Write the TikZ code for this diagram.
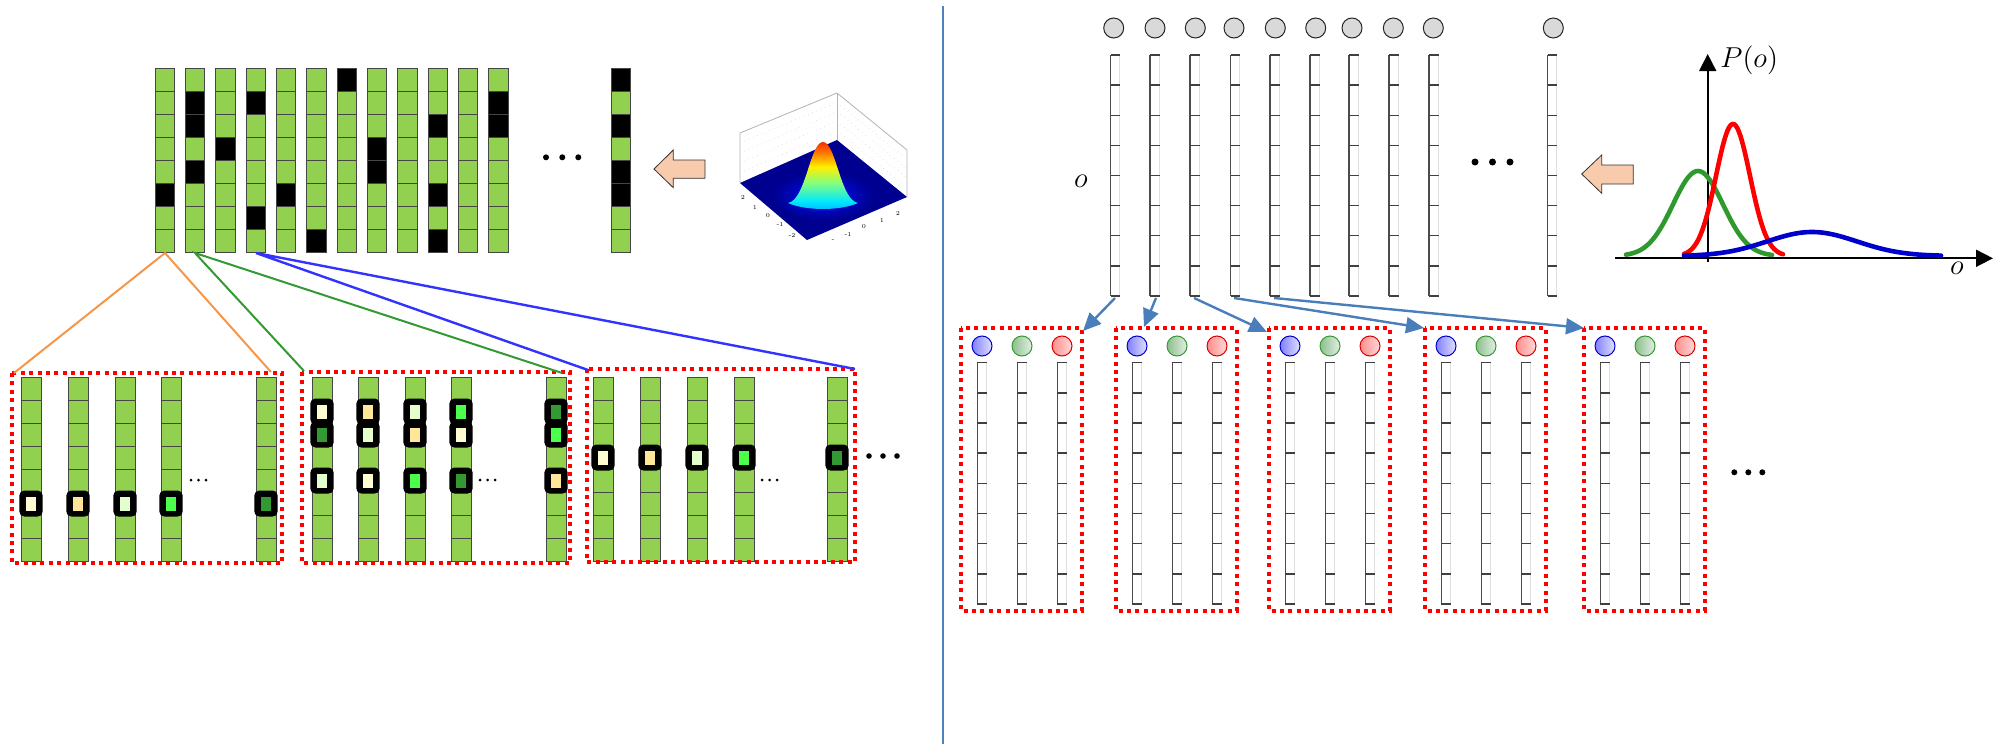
\documentclass[tikz,border=0pt]{standalone}
\usetikzlibrary{arrows.meta}
\definecolor{cellgreen}{HTML}{92D050}
\definecolor{hA}{HTML}{FFFCD2}
\definecolor{hB}{HTML}{FFE699}
\definecolor{hC}{HTML}{E2FFCC}
\definecolor{hD}{HTML}{4DFF4D}
\definecolor{hE}{HTML}{339933}
\definecolor{peachc}{HTML}{F8CBAD}
\definecolor{divblue}{HTML}{4F81BD}
\definecolor{arrowblue}{HTML}{4A7EBB}
\definecolor{orangeline}{HTML}{F79646}
\definecolor{greenline}{HTML}{339933}
\definecolor{blueline}{HTML}{3333FF}
\definecolor{curvegreen}{HTML}{2E9A2E}
\definecolor{curvered}{HTML}{FF0000}
\definecolor{curveblue}{HTML}{0000CC}
\definecolor{jetnavy}{HTML}{000090}
\definecolor{jetblue}{HTML}{0010FF}
\definecolor{jetlblue}{HTML}{0080FF}
\definecolor{jetcyan}{HTML}{00E8FF}
\definecolor{jetgreen}{HTML}{80FF80}
\definecolor{jetyellow}{HTML}{FFF000}
\definecolor{jetorange}{HTML}{FF7000}
\definecolor{jetred}{HTML}{F00000}
\definecolor{jetdred}{HTML}{900000}
\pgfdeclareverticalshading{jetbump}{100bp}{color(0bp)=(jetblue); color(18bp)=(jetlblue); color(32bp)=(jetcyan); color(45bp)=(jetgreen); color(57bp)=(jetyellow); color(68bp)=(jetorange); color(80bp)=(jetred); color(100bp)=(jetdred)}
\tikzset{
  cell/.style={draw=gray!55!black, line width=0.5pt, fill=cellgreen},
  blackcell/.style={draw=gray!55!black, line width=0.5pt, fill=black},
  redbox/.style={draw=red, line width=2pt, dash pattern=on 2pt off 2.2pt},
  scaleline/.style={draw=gray!60!black, line width=0.6pt},
  faintline/.style={draw=gray!25, line width=0.4pt},
  tickline/.style={draw=black!75, line width=0.7pt},
  bluearrow/.style={draw=arrowblue, line width=1.2pt, -{Triangle[length=9pt,width=8pt]}},
  peacharrow/.style={fill=peachc, draw=black!80, line width=0.4pt},
  gcircle/.style={fill=gray!30, draw=gray!30!black, line width=0.5pt},
  hframe/.style={fill=black, rounded corners=2.5pt},
  tinylab/.style={font=\fontsize{3}{3.5}\selectfont, inner sep=0pt},
  dotc/.style={fill=black},
}
\begin{document}
\begin{tikzpicture}[x=0.5pt,y=-0.5pt]
\useasboundingbox (0,0) rectangle (2004,744);

% ---------------- top-left binary matrix ----------------
\foreach \c in {0,...,11} {
  \foreach \r in {0,...,7} {
    \path[cell] ({155+30.35*\c},{68+23*\r}) rectangle +(19.3,23);
  }
}
\foreach \c/\r in {1/6,2/2,2/3,2/5,3/4,4/2,4/7,5/6,6/8,7/1,8/4,8/5,10/3,10/6,10/8,12/2,12/3} {
  \path[blackcell] ({155+30.35*(\c-1)},{68+23*(\r-1)}) rectangle +(19.3,23);
}
\foreach \r in {0,...,7} {
  \path[cell] (611.5,{68+23*\r}) rectangle +(18.5,23);
}
\foreach \r in {1,3,5,6} {
  \path[blackcell] (611.5,{68+23*(\r-1)}) rectangle +(18.5,23);
}
% ellipsis
\foreach \x in {546,562.3,578.3} \fill[dotc] (\x,157.3) circle[radius=3];
% peach arrow (left half)
\path[peacharrow] (654,169) -- (673.3,150) -- (673.3,160) -- (705,160) -- (705,178.3) -- (673.3,178.3) -- (673.3,187.7) -- cycle;

% ---------------- gaussian surface ----------------
\draw[gray!60, line width=0.4pt] (740,183) -- (740,133) -- (837,93) -- (907,150) -- (907,197);
\draw[gray!60, line width=0.4pt] (837,93) -- (837,140);
\foreach \k in {1,...,4} {
  \draw[gray!35, line width=0.3pt, dotted] (740,{133+10*\k}) -- (837,{93+9.4*\k});
  \draw[gray!35, line width=0.3pt, dotted] (837,{93+9.4*\k}) -- (907,{150+9.4*\k});
}
\fill[jetnavy] (740,183) -- (837,140) -- (907,197) -- (807,240) -- cycle;
\begin{scope}
  \clip (740,183) -- (837,140) -- (907,197) -- (807,240) -- cycle;
  \shade[inner color=jetblue, outer color=jetnavy] (823,196) ellipse [x radius=50, y radius=24];
\end{scope}
\shade[shading=jetbump] (788,203) .. controls (806,200) and (810,142) .. (823,142) .. controls (836,142) and (840,200) .. (858,203) .. controls (840,211) and (806,211) .. (788,203) -- cycle;
\node[tinylab] (tl1) at (743,197) {2};
\node[tinylab] (tl2) at (755,207) {1};
\node[tinylab] (tl3) at (768,216) {0};
\node[tinylab] (tl4) at (780,225) {-1};
\node[tinylab] (tl5) at (792,235) {-2};
\node[tinylab] (tr1) at (833,241) {-};
\node[tinylab] (tr2) at (848,234) {-1};
\node[tinylab] (tr3) at (864,227) {0};
\node[tinylab] (tr4) at (882,220) {1};
\node[tinylab] (tr5) at (898,213) {2};

% ---------------- bottom-left groups ----------------
\foreach \x in {21,68,115,161,256,312,358,405,451,546,593,640,687,734,827} {
  \foreach \r in {0,...,7} {
    \path[cell] (\x,{377+23*\r}) rectangle +(20,23);
  }
}
\foreach \x/\r/\hc in {21/5/hA,68/5/hB,115/5/hC,161/5/hD,256/5/hE,
  312/1/hA,312/2/hE,312/4/hC,
  358/1/hB,358/2/hC,358/4/hA,
  405/1/hC,405/2/hB,405/4/hD,
  451/1/hD,451/2/hA,451/4/hE,
  546/1/hE,546/2/hD,546/4/hB,
  593/3/hA,640/3/hB,687/3/hC,734/3/hD,827/3/hE} {
  \path[hframe] ({\x-1.7},{377+23*\r-1.5}) rectangle +(23.4,26);
  \fill[\hc] ({\x+5},{377+23*\r+4.5}) rectangle +(10,14);
}
\draw[redbox] (12,373) rectangle (282,563);
\draw[redbox] (302,372) rectangle (570,563);
\draw[redbox] (587,369) rectangle (855,562);
\foreach \x in {191,198.5,206,480,487.5,495,762,769.5,777} \fill[dotc] (\x,480) circle[radius=1.5];
\foreach \x in {869,883,897} \fill[dotc] (\x,456) circle[radius=2.8];

% connectors
\coordinate (m1) at (165,253);
\coordinate (m2) at (195,253);
\coordinate (m4) at (256,253);
\coordinate (g1a) at (14,373);
\coordinate (g1b) at (271,372);
\coordinate (g2a) at (304,371);
\coordinate (g2b) at (562,373);
\coordinate (g3a) at (588,370);
\coordinate (g3b) at (855,369);
\draw[orangeline, line width=1pt] (g1a) -- (m1) -- (g1b);
\draw[greenline, line width=1pt] (g2a) -- (m2) -- (g2b);
\draw[blueline, line width=1.2pt] (g3a) -- (m4) -- (g3b);

% divider
\draw[divblue, line width=1pt] (943,6) -- (943,744);

% ---------------- right top ----------------
\foreach \x in {1113.7,1155,1195.3,1234,1275.3,1315.7,1352,1393.3,1433.3,1553.3} {
  \path[gcircle] (\x,28) circle[radius=10];
}
\foreach \x in {1110.7,1150,1190,1230.7,1270,1310,1349,1389,1429,1547.7} {
  \draw[faintline] ({\x+9},55) -- ({\x+9},296);
  \draw[scaleline] (\x,55) -- (\x,296);
  \foreach \k in {0,...,8} \draw[tickline] (\x,{55+30.125*\k}) -- +(9.5,0);
}
\node[font=\fontsize{14}{16}\selectfont, inner sep=0pt] (olab) at (1081,181) {$o$};
\foreach \x in {1475,1492.5,1510} \fill[dotc] (\x,162) circle[radius=3.5];
\path[peacharrow] (1581.7,174) -- (1601.7,155) -- (1601.7,165) -- (1633.3,165) -- (1633.3,184) -- (1601.7,184) -- (1601.7,193.3) -- cycle;

% plot
\coordinate (ax0) at (1707.7,262);
\coordinate (axtop) at (1707.7,54);
\coordinate (ay0) at (1615,258.3);
\coordinate (ayend) at (1993,258.3);
\draw[black, line width=0.85pt, -{Triangle[length=8.5pt,width=8.5pt]}] (ay0) -- (ayend);
\draw[black, line width=0.85pt, -{Triangle[length=8.5pt,width=8.5pt]}] (ax0) -- (axtop);
\draw[curvegreen, line width=2.3pt, line cap=round] plot[domain=1626:1772, samples=80, smooth] (\x,{256-85*exp(-0.5*((\x-1698)/25)*((\x-1698)/25))});
\draw[curvered, line width=2.3pt, line cap=round] plot[domain=1684:1783, samples=80, smooth] (\x,{256-132*exp(-0.5*((\x-1733)/17)*((\x-1733)/17))});
\draw[curveblue, line width=2.3pt, line cap=round] plot[domain=1684:1941, samples=100, smooth] (\x,{256-24*exp(-0.5*((\x-1812)/45)*((\x-1812)/45))});
\node[font=\fontsize{14}{16}\selectfont, inner sep=0pt, anchor=west] (plab) at (1720,60) {$P(o)$};
\node[font=\fontsize{14}{16}\selectfont, inner sep=0pt] (oax) at (1957,268) {$o$};

% ---------------- right bottom groups ----------------
\foreach \L in {961,1116,1269,1425,1584} {
  \draw[redbox] (\L,328) rectangle ({\L+120.5},611);
  \shade[left color=blue!50!white, right color=blue!12!white, draw=blue!80!black, line width=0.5pt] ({\L+21},346) circle[radius=10];
  \shade[left color=green!45!black!45!white, right color=green!30!black!10!white, draw=greenline, line width=0.5pt] ({\L+61},346) circle[radius=10];
  \shade[left color=red!45!white, right color=red!15!white, draw=red!85!black, line width=0.5pt] ({\L+101},346) circle[radius=10];
  \foreach \d in {16.3,56.3,96.3} {
    \draw[faintline] ({\L+\d+9},362.7) -- ({\L+\d+9},604);
    \draw[scaleline] ({\L+\d},362.7) -- ({\L+\d},604);
    \foreach \k in {0,...,8} \draw[tickline] ({\L+\d},{362.7+30.16*\k}) -- +(9.5,0);
  }
}
\foreach \x in {1734.3,1748.3,1762.3} \fill[dotc] (\x,472.3) circle[radius=3];

% blue arrows
\coordinate (s1) at (1115,298);
\coordinate (s2) at (1156,298);
\coordinate (s3) at (1194,298);
\coordinate (s4) at (1234,298);
\coordinate (s5) at (1274,298);
\coordinate (e1) at (1083,331);
\coordinate (e2) at (1144,327);
\coordinate (e3) at (1267,332);
\coordinate (e4) at (1424,328);
\coordinate (e5) at (1584,328);
\draw[bluearrow] (s1) -- (e1);
\draw[bluearrow] (s2) -- (e2);
\draw[bluearrow] (s3) -- (e3);
\draw[bluearrow] (s4) -- (e4);
\draw[bluearrow] (s5) -- (e5);
\end{tikzpicture}
\end{document}
